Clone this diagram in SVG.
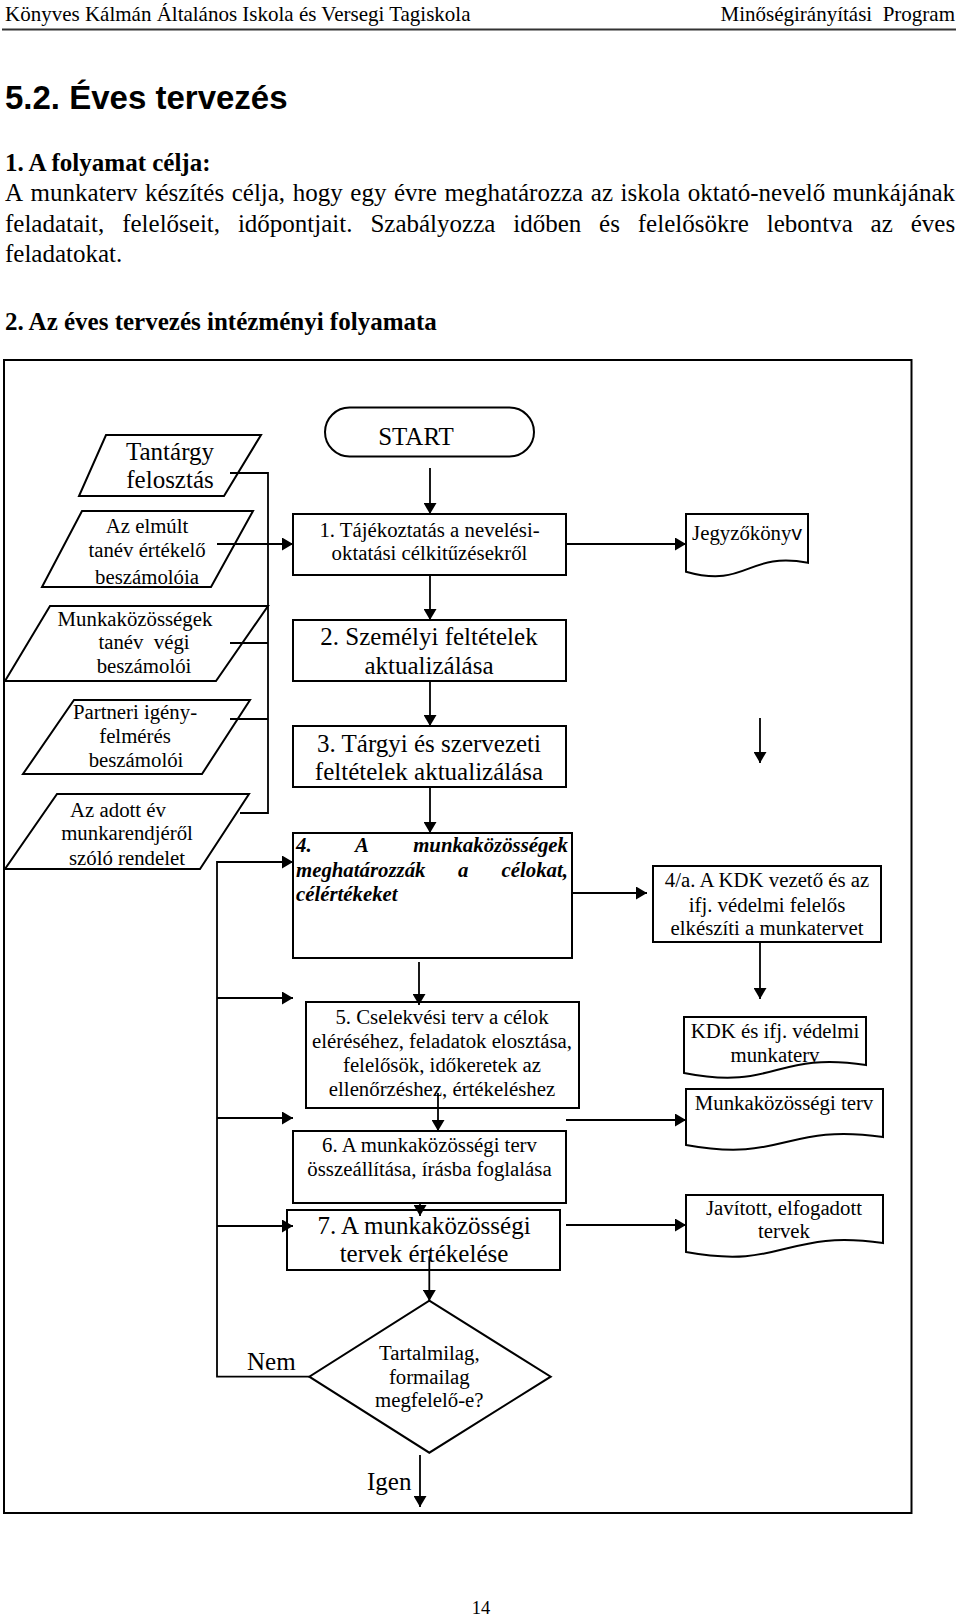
<svg xmlns="http://www.w3.org/2000/svg" width="960" height="1617" viewBox="0 0 960 1617">
<defs>
<marker id="ah" markerUnits="userSpaceOnUse" markerWidth="12" markerHeight="13" refX="11" refY="6.5" orient="auto"><path d="M0,0 L11,6.5 L0,13 Z" fill="#000"/></marker>
</defs>
<style>
.s{font-family:"Liberation Serif","Times New Roman",serif;fill:#000}
.a{font-family:"Liberation Sans",Arial,sans-serif;fill:#000}
.f10{font-size:20.8px}
.f12{font-size:25px}
.c{text-anchor:middle}
.b{font-weight:bold}
.bi{font-weight:bold;font-style:italic}
.shape{fill:#fff;stroke:#000;stroke-width:2}
.ln{fill:none;stroke:#000;stroke-width:1.8}
.ar{fill:none;stroke:#000;stroke-width:1.8;marker-end:url(#ah)}
</style>
<rect width="960" height="1617" fill="#fff"/>

<g id="page-header">
<text class="s" x="5" y="21" font-size="21">Könyves Kálmán Általános Iskola és Versegi Tagiskola</text>
<text class="s" x="955" y="21" font-size="21" text-anchor="end" xml:space="preserve">Minőségirányítási  Program</text>
<line x1="2" y1="29.5" x2="956" y2="29.5" stroke="#333" stroke-width="2.2"/>
</g>

<g id="intro-text">
<text class="a b" x="5" y="109" font-size="33">5.2. Éves tervezés</text>
<text class="s b f12" x="5" y="171">1. A folyamat célja:</text>
<text class="s f12" y="201"><tspan x="5">A</tspan><tspan x="30.6">munkaterv</tspan><tspan x="145">készítés</tspan><tspan x="231.7">célja,</tspan><tspan x="292.8">hogy</tspan><tspan x="350.3">egy</tspan><tspan x="393.9">évre</tspan><tspan x="444.4">meghatározza</tspan><tspan x="590.8">az</tspan><tspan x="620.5">iskola</tspan><tspan x="687.8">oktató-nevelő</tspan><tspan x="832.8">munkájának</tspan></text>
<text class="s f12" y="232"><tspan x="5">feladatait,</tspan><tspan x="122.2">felelőseit,</tspan><tspan x="237.9">időpontjait.</tspan><tspan x="370.4">Szabályozza</tspan><tspan x="513.3">időben</tspan><tspan x="599.1">és</tspan><tspan x="637.8">felelősökre</tspan><tspan x="766.7">lebontva</tspan><tspan x="870.6">az</tspan><tspan x="910.7">éves</tspan></text>
<text class="s f12" x="5" y="262">feladatokat.</text>
<text class="s b f12" x="5" y="330">2. Az éves tervezés intézményi folyamata</text>
</g>

<rect id="frame" x="4" y="360" width="907.5" height="1153" fill="#fff" stroke="#000" stroke-width="2"/>

<g id="n-tantargy">
<polygon class="shape" points="106,435 261,435 224,496 79,496"/>
<text class="s f12 c" x="170" y="460">Tantárgy</text>
<text class="s f12 c" x="170" y="488">felosztás</text>
</g>
<g id="n-elmult">
<polygon class="shape" points="82,511 253,511 211,587 42,587"/>
<text class="s f10 c" x="147" y="533">Az elmúlt</text>
<text class="s f10 c" x="147" y="557">tanév értékelő</text>
<text class="s f10 c" x="147" y="584">beszámolóia</text>
</g>
<g id="n-munkakozossegek">
<polygon class="shape" points="50,606 268,606 216,681 5,681"/>
<text class="s f10 c" x="135" y="626">Munkaközösségek</text>
<text class="s f10 c" x="144" y="649" xml:space="preserve">tanév  végi</text>
<text class="s f10 c" x="144" y="673">beszámolói</text>
</g>
<g id="n-partneri">
<polygon class="shape" points="74,700 250,700 202,774 23,774"/>
<text class="s f10 c" x="135" y="719">Partneri igény-</text>
<text class="s f10 c" x="135" y="743">felmérés</text>
<text class="s f10 c" x="136" y="767">beszámolói</text>
</g>
<g id="n-rendelet">
<polygon class="shape" points="57,794 249,794 200,869 5,869"/>
<text class="s f10 c" x="118" y="817">Az adott év</text>
<text class="s f10 c" x="127" y="840">munkarendjéről</text>
<text class="s f10 c" x="127" y="865">szóló rendelet</text>
</g>

<g id="n-start">
<rect class="shape" x="325" y="407.5" width="209" height="49" rx="24.5"/>
<text class="s f12 c" x="416" y="445">START</text>
</g>
<g id="n-1">
<rect class="shape" x="293" y="514" width="273" height="61"/>
<text class="s f10 c" x="429.5" y="537">1. Tájékoztatás a nevelési-</text>
<text class="s f10 c" x="429.5" y="560">oktatási célkitűzésekről</text>
</g>
<g id="n-2">
<rect class="shape" x="293" y="620" width="273" height="61"/>
<text class="s f12 c" x="429" y="645">2. Személyi feltételek</text>
<text class="s f12 c" x="429" y="674">aktualizálása</text>
</g>
<g id="n-3">
<rect class="shape" x="293" y="726" width="273" height="61"/>
<text class="s f12 c" x="429" y="752">3. Tárgyi és szervezeti</text>
<text class="s f12 c" x="429" y="780">feltételek aktualizálása</text>
</g>
<g id="n-4">
<rect class="shape" x="293" y="833" width="279" height="125"/>
<text class="s f10 bi" x="296" y="852">4.</text>
<text class="s f10 bi" x="355" y="852">A</text>
<text class="s f10 bi" x="568" y="852" text-anchor="end">munkaközösségek</text>
<text class="s f10 bi" x="296" y="877">meghatározzák</text>
<text class="s f10 bi" x="458" y="877">a</text>
<text class="s f10 bi" x="568" y="877" text-anchor="end">célokat,</text>
<text class="s f10 bi" x="296" y="901">célértékeket</text>
</g>
<g id="n-5">
<rect class="shape" x="306" y="1002" width="273" height="106"/>
<text class="s f10 c" x="442" y="1024">5. Cselekvési terv a célok</text>
<text class="s f10 c" x="442" y="1048">eléréséhez, feladatok elosztása,</text>
<text class="s f10 c" x="442" y="1072">felelősök, időkeretek az</text>
<text class="s f10 c" x="442" y="1096">ellenőrzéshez, értékeléshez</text>
</g>
<g id="n-6">
<rect class="shape" x="293" y="1131" width="273" height="72"/>
<text class="s f10 c" x="429.5" y="1152">6. A munkaközösségi terv</text>
<text class="s f10 c" x="429.5" y="1176">összeállítása, írásba foglalása</text>
</g>
<g id="n-7">
<rect class="shape" x="287" y="1210" width="273" height="60"/>
<text class="s f12 c" x="424" y="1234">7. A munkaközösségi</text>
<text class="s f12 c" x="424" y="1262">tervek értékelése</text>
</g>
<g id="n-decision">
<polygon class="shape" points="429.3,1300.7 550.7,1376.7 429.3,1452.7 309.3,1376.7"/>
<text class="s f10 c" x="429.3" y="1360">Tartalmilag,</text>
<text class="s f10 c" x="429.3" y="1383.5">formailag</text>
<text class="s f10 c" x="429.3" y="1407">megfelelő-e?</text>
</g>

<g id="n-jegyzokonyv">
<path class="shape" d="M686,514 H808 V562.7 C747,551 747,589 686,571.7 Z"/>
<text class="s f10 c" x="747" y="540">Jegyzőköny<tspan class="a" font-size="21">v</tspan></text>
</g>
<g id="n-4a">
<rect class="shape" x="653" y="866" width="228" height="76"/>
<text class="s f10 c" x="767" y="887">4/a. A KDK vezető és az</text>
<text class="s f10 c" x="767" y="911.5">ifj. védelmi felelős</text>
<text class="s f10 c" x="767" y="935">elkészíti a munkatervet</text>
</g>
<g id="n-kdk-terv">
<path class="shape" d="M684,1017 H866 V1065 C775,1051 775,1091 684,1073 Z"/>
<text class="s f10 c" x="775" y="1038">KDK és ifj. védelmi</text>
<text class="s f10 c" x="775" y="1062">munkaterv</text>
</g>
<g id="n-mk-terv">
<path class="shape" d="M686,1089 H883 V1137 C784.5,1123 784.5,1163 686,1145 Z"/>
<text class="s f10 c" x="784" y="1110">Munkaközösségi terv</text>
</g>
<g id="n-javitott">
<path class="shape" d="M686,1195 H883 V1243 C784.5,1229 784.5,1270 686,1252 Z"/>
<text class="s f10 c" x="784" y="1215">Javított, elfogadott</text>
<text class="s f10 c" x="784" y="1238">tervek</text>
</g>

<g id="connectors">
<polyline class="ln" points="230,473 268,473 268,813 240,813"/>
<line class="ln" x1="230" y1="643" x2="268" y2="643"/>
<line class="ln" x1="230" y1="719" x2="268" y2="719"/>
<line class="ar" x1="217" y1="544" x2="293" y2="544"/>
<line class="ar" x1="430" y1="468" x2="430" y2="514"/>
<line class="ar" x1="430" y1="575" x2="430" y2="620"/>
<line class="ar" x1="430" y1="681" x2="430" y2="726"/>
<line class="ar" x1="430" y1="787" x2="430" y2="833"/>
<line class="ar" x1="419" y1="962" x2="419" y2="1005"/>
<line class="ar" x1="438" y1="1093" x2="438" y2="1131"/>
<line class="ar" x1="420" y1="1203" x2="420" y2="1216"/>
<line class="ar" x1="429.3" y1="1256" x2="429.3" y2="1301"/>
<line class="ar" x1="420" y1="1455" x2="420" y2="1507"/>
<polyline class="ar" points="309.3,1376.7 217,1376.7 217,862 293,862"/>
<line class="ar" x1="217" y1="998" x2="293" y2="998"/>
<line class="ar" x1="217" y1="1118" x2="293" y2="1118"/>
<line class="ar" x1="217" y1="1226" x2="293" y2="1226"/>
<line class="ar" x1="566" y1="544" x2="686" y2="544"/>
<line class="ar" x1="760" y1="718" x2="760" y2="763"/>
<line class="ar" x1="572" y1="893" x2="647" y2="893"/>
<line class="ar" x1="760" y1="942" x2="760" y2="999"/>
<line class="ar" x1="566" y1="1120" x2="686" y2="1120"/>
<line class="ar" x1="566" y1="1225" x2="686" y2="1225"/>
<text class="s f12" x="247" y="1370">Nem</text>
<text class="s f12" x="367" y="1490">Igen</text>
</g>

<text id="page-number" class="s c" x="481" y="1614" font-size="18.5">14</text>
</svg>
